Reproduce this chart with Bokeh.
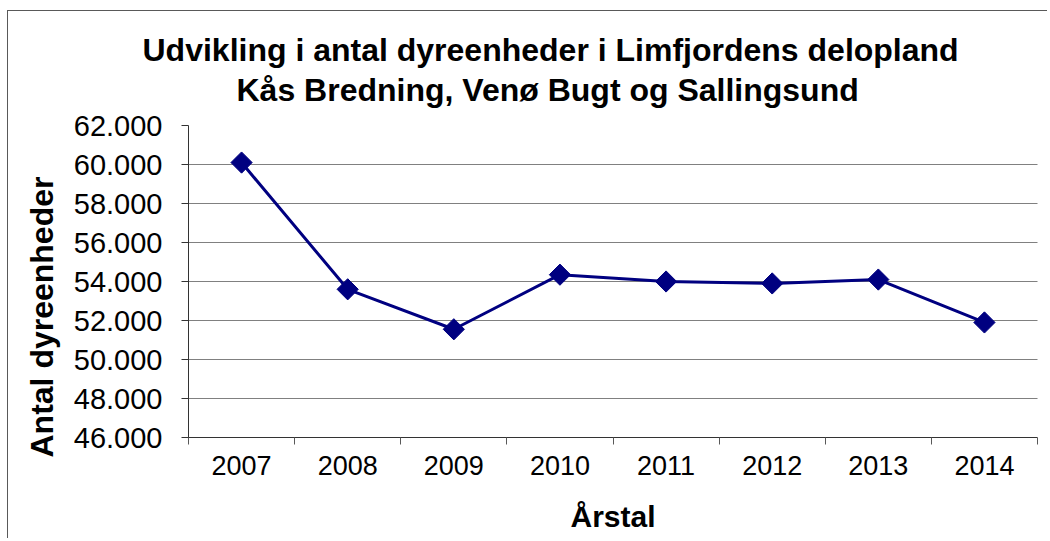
from bokeh.plotting import figure
from bokeh.models import Range1d, FixedTicker, Title
from bokeh.embed import file_html
from bokeh.resources import INLINE
import numpy as np

years = ["2007", "2008", "2009", "2010", "2011", "2012", "2013", "2014"]
values = [60100, 53600, 51550, 54350, 54000, 53900, 54100, 51900]
y_ticks = [46000, 48000, 50000, 52000, 54000, 56000, 58000, 60000, 62000]
y_tick_labels = ["46.000", "48.000", "50.000", "52.000", "54.000", "56.000", "58.000", "60.000", "62.000"]

title1 = "Udvikling i antal dyreenheder i Limfjordens delopland"
title2 = "Kås Bredning, Venø Bugt og Sallingsund"
ylabel = "Antal dyreenheder"
xlabel = "Årstal"

FONT = "Liberation Sans"

n = len(years)
xc = [i + 0.5 for i in range(n)]

p = figure(width=1040, height=528, output_backend="svg", toolbar_location=None,
           x_range=Range1d(0, n), y_range=Range1d(y_ticks[0], y_ticks[-1]),
           min_border_left=180, min_border_right=11, min_border_top=114, min_border_bottom=102,
           styles={"margin-top": "10px", "margin-left": "7px",
                   "border-top": "1px solid #595959", "border-left": "1px solid #595959",
                   "border-right": "none", "border-bottom": "none"})
p.outline_line_color = None
p.background_fill_color = "white"
p.border_fill_color = "white"

# x axis
p.xaxis.ticker = FixedTicker(ticks=xc, minor_ticks=list(range(n + 1)))
p.xaxis.major_label_overrides = {x: y for x, y in zip(xc, years)}
p.xaxis.major_tick_line_color = None
p.xaxis.minor_tick_in = 0
p.xaxis.minor_tick_out = 7
p.xaxis.minor_tick_line_color = "#595959"
p.xaxis.minor_tick_line_width = 1
p.xaxis.axis_line_color = "#333333"
p.xaxis.major_label_text_font = FONT
p.xaxis.major_label_text_font_size = "27px"
p.xaxis.major_label_text_color = "black"
p.xaxis.major_label_standoff = 11
p.xaxis.axis_label = xlabel
p.xaxis.axis_label_text_font = FONT
p.xaxis.axis_label_text_font_size = "30px"
p.xaxis.axis_label_text_font_style = "bold"
p.xaxis.axis_label_text_color = "black"
p.xaxis.axis_label_standoff = 22

# y axis
p.yaxis.ticker = FixedTicker(ticks=y_ticks, minor_ticks=[])
p.yaxis.major_label_overrides = {t: l for t, l in zip(y_ticks, y_tick_labels)}
p.yaxis.major_tick_in = 0
p.yaxis.major_tick_out = 7
p.yaxis.major_tick_line_color = "#333333"
p.yaxis.axis_line_color = "#333333"
p.yaxis.major_label_text_font = FONT
p.yaxis.major_label_text_font_size = "29px"
p.yaxis.major_label_text_color = "black"
p.yaxis.major_label_standoff = 19

p.xgrid.grid_line_color = None
p.ygrid.grid_line_color = "black"
p.ygrid.grid_line_dash = "1 1"
p.ygrid.grid_line_width = 1

p.line(xc, values, line_color="#000080", line_width=3)
p.scatter(xc, values, marker="square", angle=np.pi / 4, size=15,
          fill_color="#000080", line_color="#000080")

t2 = Title(text=title2, align="left", offset=48, text_font=FONT, text_font_size="32px",
           text_font_style="bold", text_color="black", standoff=35)
t1 = Title(text=title1, align="left", offset=-46, text_font=FONT, text_font_size="32px",
           text_font_style="bold", text_color="black", standoff=-31)
p.add_layout(t2, "above")
p.add_layout(t1, "above")

ty = Title(text=ylabel, align="left", offset=-20, text_font=FONT, text_font_size="32px",
           text_font_style="bold", text_color="black", standoff=22)
p.add_layout(ty, "left")

open("out.html", "w").write(file_html(p, INLINE))
